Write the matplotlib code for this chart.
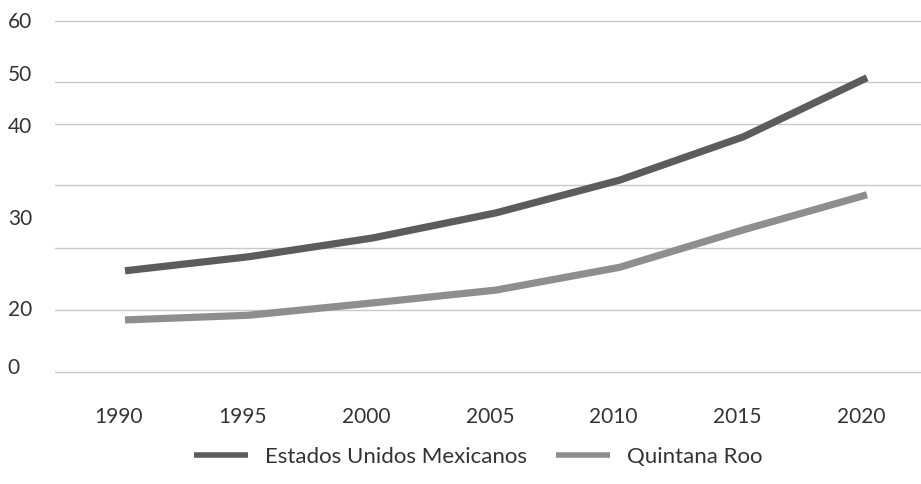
import matplotlib.pyplot as plt
import matplotlib.transforms as mtransforms

# values (axis spans 0-60 bottom to top)
years = [1990, 1995, 2000, 2005, 2010, 2015, 2020]
estados_unidos = [17.3, 19.7, 22.9, 27.2, 32.8, 40.2, 50.3]
quintana_roo = [8.9, 9.7, 11.8, 14.0, 17.9, 24.3, 30.3]

# gridlines and y labels do not line up in the scan
grid_values = [0, 10.6, 21.2, 32.0, 42.4, 49.6, 60]
label_values = [1.0, 10.9, 26.5, 42.2, 51.1, 60.2]
label_texts = ['0', '20', '30', '40', '50', '60']

plt.rcParams['font.family'] = ['Lato', 'DejaVu Sans']
text_color = '#333333'

fig = plt.figure(figsize=(9.21, 4.84), dpi=100)
# 5.85 px per unit, one unit of margin above and below
unit = 5.85
ax = fig.add_axes([55 / 921, (112 - unit) / 484, (935 - 55) / 921, (351 + 2 * unit) / 484])

ax.plot(years, estados_unidos, color='#5c5c5c', lw=5.2, solid_capstyle='butt',
        label='Estados Unidos Mexicanos')
ax.plot(years, quintana_roo, color='#8e8e8e', lw=5.2, solid_capstyle='butt',
        label='Quintana Roo')

px_per_year = 742 / 30
ax.set_xlim(1990 - 70 / px_per_year, 2020 + 68 / px_per_year)
ax.set_ylim(-1, 61)

ax.set_yticks(grid_values)
ax.set_yticklabels([])
ax.set_yticks(label_values, minor=True)
ax.set_yticklabels(label_texts, minor=True)
ax.yaxis.grid(True, which='major', color='#c8c8c8', lw=1.0)
ax.tick_params(axis='y', which='both', length=0)
ax.tick_params(axis='y', which='minor', pad=34, labelsize=15, labelcolor=text_color)
for lbl in ax.get_yticklabels(minor=True):
    lbl.set_horizontalalignment('left')

ax.set_xticks(years)
ax.set_xticklabels([str(y) for y in years])
ax.tick_params(axis='x', length=0, pad=21, labelsize=15, labelcolor=text_color)
shift = mtransforms.ScaledTranslation(-6 / 100, 0, fig.dpi_scale_trans)
for lbl in ax.get_xticklabels():
    lbl.set_transform(lbl.get_transform() + shift)

for s in ax.spines.values():
    s.set_visible(False)

leg = fig.legend(loc='center', bbox_to_anchor=(478 / 921, 27 / 484), ncol=2,
                 frameon=False, fontsize=16, handlelength=2.45,
                 handletextpad=0.75, columnspacing=1.3)
for t in leg.get_texts():
    t.set_color(text_color)
for h in leg.get_lines():
    h.set_linewidth(4)

fig.savefig('out.png', dpi=100)
